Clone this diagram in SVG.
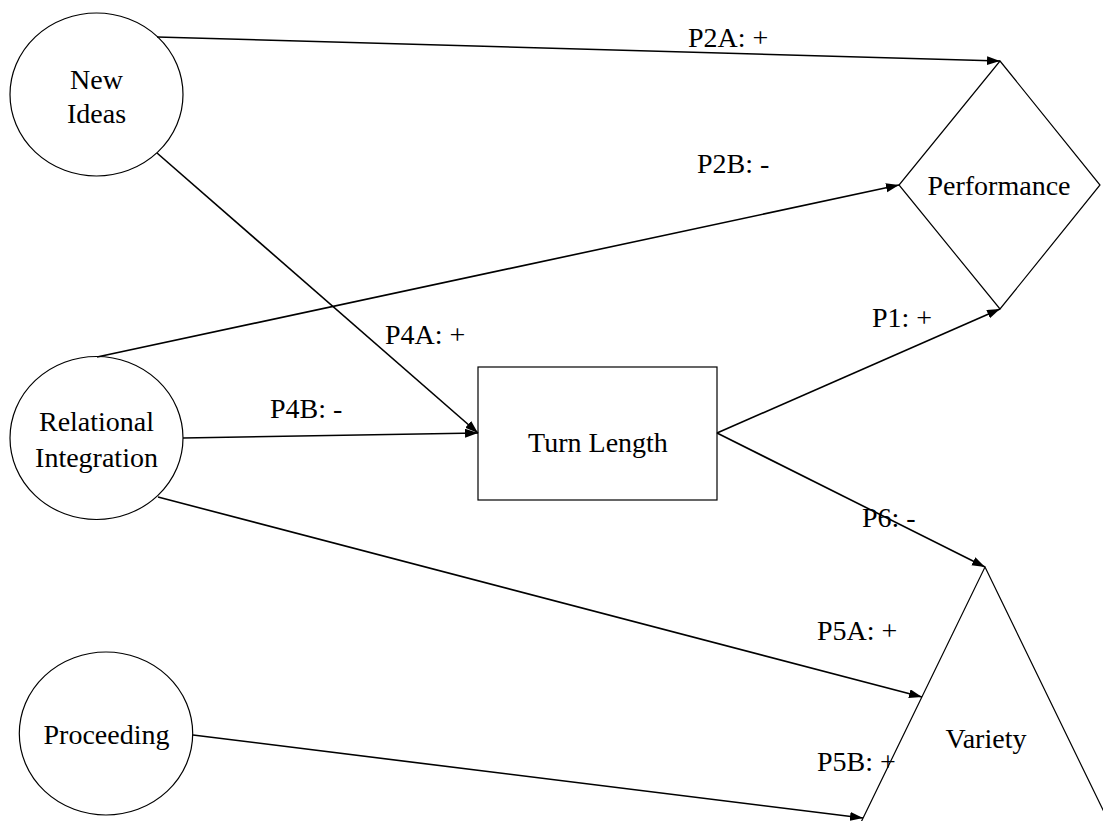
<svg xmlns="http://www.w3.org/2000/svg" width="1103" height="821" viewBox="0 0 1103 821">
<style>
.shape{fill:#fff;stroke:#000;stroke-width:1.2}
.t{font-family:'Liberation Serif','DejaVu Serif',serif;font-size:28px;fill:#000}
.c{text-anchor:middle}
.edge{fill:none;stroke:#000;stroke-width:1.6;marker-end:url(#arr)}
</style>
<defs>
<marker id="arr" markerUnits="userSpaceOnUse" markerWidth="14" markerHeight="10" refX="13" refY="4.5" orient="auto">
<path d="M0,0 L13,4.5 L0,9 z" fill="#000"/>
</marker>
</defs>
<rect width="1103" height="821" fill="#fff"/>
<g id="performance">
<polygon class="shape" points="1000,61 1100,185 1000,309 899,185"/>
<text class="t c" x="999" y="195" font-family="Liberation Serif, serif">Performance</text>
</g>
<g id="variety">
<polygon class="shape" points="985,567 1137,880 833,880"/>
<text class="t c" x="986" y="748" font-family="Liberation Serif, serif">Variety</text>
</g>
<g id="turn-length">
<rect class="shape" x="478" y="367" width="239" height="133"/>
<text class="t c" x="598" y="452" font-family="Liberation Serif, serif">Turn Length</text>
</g>
<g id="new-ideas">
<ellipse class="shape" cx="96.5" cy="94.5" rx="86.5" ry="81.5"/>
<text class="t c" x="96.5" y="89" font-family="Liberation Serif, serif">New</text>
<text class="t c" x="96.5" y="123" font-family="Liberation Serif, serif">Ideas</text>
</g>
<g id="relational-integration">
<ellipse class="shape" cx="96.5" cy="438" rx="86.5" ry="81.5"/>
<text class="t c" x="96.5" y="431" font-family="Liberation Serif, serif">Relational</text>
<text class="t c" x="96.5" y="467" font-family="Liberation Serif, serif">Integration</text>
</g>
<g id="proceeding">
<ellipse class="shape" cx="106" cy="733.5" rx="86.7" ry="81.5"/>
<text class="t c" x="106.5" y="744" font-family="Liberation Serif, serif">Proceeding</text>
</g>
<g id="connectors">
<line class="edge" x1="157" y1="37" x2="1000" y2="61"/>
<line class="edge" x1="157" y1="153" x2="478" y2="433"/>
<line class="edge" x1="97" y1="357" x2="899" y2="185"/>
<line class="edge" x1="183" y1="438" x2="478" y2="433"/>
<line class="edge" x1="158" y1="497" x2="922" y2="697"/>
<line class="edge" x1="717" y1="433" x2="1000" y2="309"/>
<line class="edge" x1="717" y1="433" x2="985" y2="567"/>
<line class="edge" x1="193" y1="735" x2="863" y2="818"/>
</g>
<g id="labels" font-family="Liberation Serif, serif">
<text class="t" x="688" y="47">P2A: +</text>
<text class="t" x="697" y="173">P2B: -</text>
<text class="t" x="385" y="344">P4A: +</text>
<text class="t" x="270" y="418">P4B: -</text>
<text class="t" x="872" y="327">P1: +</text>
<text class="t" x="862" y="527">P6: -</text>
<text class="t" x="817" y="640">P5A: +</text>
<text class="t" x="817" y="771">P5B: +</text>
</g>
</svg>
